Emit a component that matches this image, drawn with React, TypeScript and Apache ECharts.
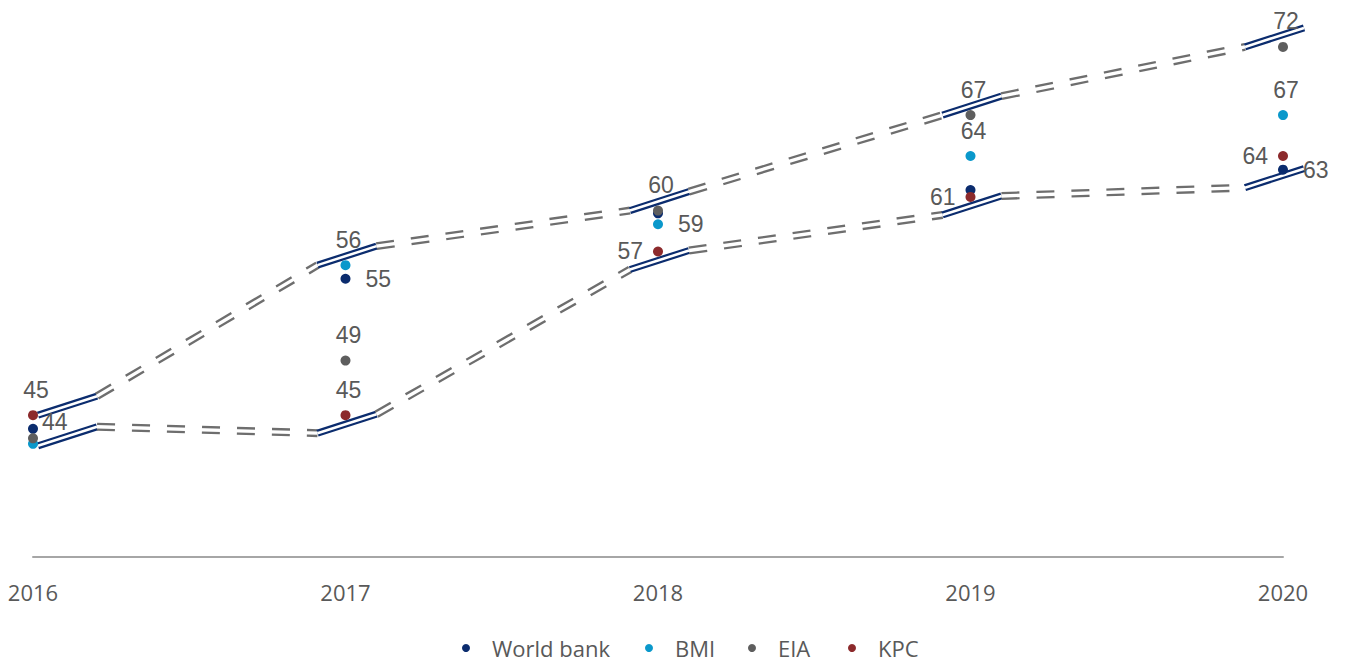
import { useEffect, useRef } from 'react';
import * as echarts from 'echarts';

// Forecast values per source, one entry per year
const years = ['2016', '2017', '2018', '2019', '2020'];
const worldBank = [44, 55, 59.8, 61.5, 63];
const bmi = [42.9, 56, 59, 64, 67];
const eia = [43.3, 49, 60, 67, 72];
const kpc = [45, 45, 57, 61, 64];

const sources = ['World bank', 'BMI', 'EIA', 'KPC'];
// Left edge of each legend entry
const legendLefts = [462, 645, 748, 848];

// Where each value label sits next to its dot (null = no label)
type Side = 'top' | 'left' | 'right' | 'corner' | null;
const worldBankLabels: Side[] = ['corner', 'right', null, null, 'right'];
const bmiLabels: Side[] = [null, 'top', 'right', 'top', 'top'];
const eiaLabels: Side[] = [null, 'top', 'top', 'top', 'top'];
const kpcLabels: Side[] = ['top', 'top', 'left', 'left', 'left'];

const NAVY = '#0B2C6E';
const TEXT = '#595959';

function labelFor(side: Side) {
  if (!side) return { show: false };
  if (side === 'top') return { show: true, position: 'top', distance: 9, offset: [3, 0] };
  if (side === 'right') return { show: true, position: 'right', distance: 15 };
  if (side === 'left') return { show: true, position: 'left', distance: 10 };
  return { show: true, position: 'right', distance: 4, offset: [0, -7] };
}

function scatter(name: string, color: string, values: number[], sides: Side[]) {
  return {
    type: 'scatter',
    name,
    symbol: 'circle',
    symbolSize: 10,
    z: 3,
    itemStyle: { color, opacity: 1 },
    emphasis: { disabled: true },
    label: {
      fontSize: 23,
      color: TEXT,
      fontFamily: '"Liberation Sans", Arial, sans-serif',
      formatter: (p: any) => String(p.value[1]),
    },
    data: values.map((v, i) => ({ value: [i, v], label: labelFor(sides[i]) })),
  };
}

const highs = years.map((_, i) => Math.max(worldBank[i], bmi[i], eia[i], kpc[i]));
const lows = years.map((_, i) => Math.min(worldBank[i], bmi[i], eia[i], kpc[i]));

// Range envelope: short double navy strokes at each year, joined by double grey dashes
function renderBands(_params: any, api: any) {
  const last = years.length - 1;
  const segments = (vals: number[], drop: (i: number) => number) =>
    years.map((_, i) => {
      const [x, y] = api.coord([i, vals[i]]);
      const x0 = x + (i === 0 ? 5 : i === last ? -38 : -28);
      const y0 = y + drop(i);
      return [[x0, y0], [x0 + 59, y0 - 19]];
    });
  const upper = segments(highs, () => 0);
  const lower = segments(lows, (i) => (i === 0 ? 2 : 18));

  const outer: any[] = [];
  const inner: any[] = [];
  [upper, lower].forEach((band) => {
    band.forEach((s, i) => {
      const shape = { x1: s[0][0], y1: s[0][1], x2: s[1][0], y2: s[1][1] };
      outer.push({ type: 'line', shape, style: { stroke: NAVY, lineWidth: 7, lineCap: 'butt' } });
      inner.push({ type: 'line', shape, style: { stroke: '#ffffff', lineWidth: 2.6, lineCap: 'butt' } });
      if (i < band.length - 1) {
        const n = band[i + 1];
        const link = { x1: s[1][0], y1: s[1][1], x2: n[0][0], y2: n[0][1] };
        outer.push({
          type: 'line',
          shape: link,
          style: { stroke: '#6E6E6E', lineWidth: 8, lineDash: [18, 17], lineCap: 'butt' },
        });
        inner.push({ type: 'line', shape: link, style: { stroke: '#ffffff', lineWidth: 3.4, lineCap: 'butt' } });
      }
    });
  });
  return { type: 'group', children: [...outer, ...inner] };
}

export default function App() {
  const ref = useRef<HTMLDivElement>(null);

  useEffect(() => {
    if (!ref.current) return;
    const chart = echarts.init(ref.current, null, { renderer: 'svg' });
    chart.setOption({
      animation: false,
      backgroundColor: '#ffffff',
      grid: { left: 33, right: 66, top: 6, bottom: 107, containLabel: false },
      xAxis: {
        type: 'category',
        data: years,
        boundaryGap: false,
        axisLine: { lineStyle: { color: '#A6A6A6', width: 2 } },
        axisTick: { show: false },
        axisLabel: { fontSize: 22, color: TEXT, margin: 24, fontFamily: '"Open Sans", sans-serif' },
        splitLine: { show: false },
      },
      yAxis: { type: 'value', min: 34.6, max: 75, show: false, splitLine: { show: false } },
      legend: sources.map((name, i) => ({
        data: [name],
        top: 637,
        left: legendLefts[i],
        padding: 0,
        icon: 'circle',
        itemWidth: 42,
        itemHeight: 8,
        textStyle: { fontSize: 22, color: TEXT, fontFamily: '"Open Sans", sans-serif' },
      })),
      series: [
        {
          type: 'custom',
          coordinateSystem: 'cartesian2d',
          silent: true,
          z: 1,
          data: [[0, 50]],
          renderItem: renderBands,
        },
        scatter(sources[0], NAVY, worldBank, worldBankLabels),
        scatter(sources[1], '#0A98CB', bmi, bmiLabels),
        scatter(sources[2], '#5E5E5E', eia, eiaLabels),
        scatter(sources[3], '#8C2A2C', kpc, kpcLabels),
      ],
    });
    return () => chart.dispose();
  }, []);

  return (
    <div
      ref={ref}
      style={{ position: 'absolute', left: 0, top: 0, width: 1349, height: 664, background: '#fff' }}
    />
  );
}
